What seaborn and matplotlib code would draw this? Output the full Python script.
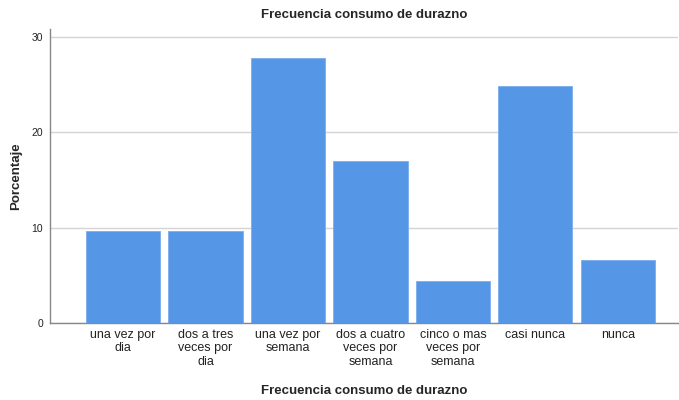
import matplotlib
matplotlib.use("Agg")
import matplotlib.pyplot as plt
import seaborn as sns
import pandas as pd

categories = ["una vez por\ndia", "dos a tres\nveces por\ndia", "una vez por\nsemana",
              "dos a cuatro\nveces por\nsemana", "cinco o mas\nveces por\nsemana",
              "casi nunca", "nunca"]
percentages = [9.6, 9.6, 27.8, 17.0, 4.4, 24.8, 6.6]
y_ticks = [0, 10, 20, 30]

df = pd.DataFrame({"categoria": categories, "porcentaje": percentages})

sns.set_style("white")
plt.rcParams["font.family"] = ["Liberation Sans", "DejaVu Sans"]

fig = plt.figure(figsize=(6.79, 4.0), dpi=100)
ax = fig.add_axes([0.0736, 0.1925, 0.9250, 0.735])

sns.barplot(data=df, x="categoria", y="porcentaje", color="#5596e6",
            width=0.9, saturation=1, edgecolor="#7aaeee", linewidth=0.6, ax=ax, zorder=3)

ax.set_xlim(-0.885, 6.73)
ax.set_ylim(0, 30.8)
ax.set_yticks(y_ticks)
ax.yaxis.grid(True, color="#d4d4d4", linewidth=1.0, zorder=0)
ax.set_axisbelow(True)

ax.spines["top"].set_visible(False)
ax.spines["right"].set_visible(False)
for side in ["left", "bottom"]:
    ax.spines[side].set_color("#888888")
    ax.spines[side].set_linewidth(1.0)

ax.tick_params(axis="y", length=3, color="#888888", labelsize=7.5, labelcolor="#222222", pad=2,
               right=False)
ax.tick_params(axis="x", length=0, labelsize=9, labelcolor="#222222", pad=4)

ax.set_title("Frecuencia consumo de durazno", fontsize=9.5, fontweight="bold", pad=8)
ax.set_xlabel("Frecuencia consumo de durazno", fontsize=9.5, fontweight="bold", labelpad=12)
ax.set_ylabel("Porcentaje", fontsize=9.5, fontweight="bold", labelpad=7)

fig.savefig("out.png", dpi=100)
